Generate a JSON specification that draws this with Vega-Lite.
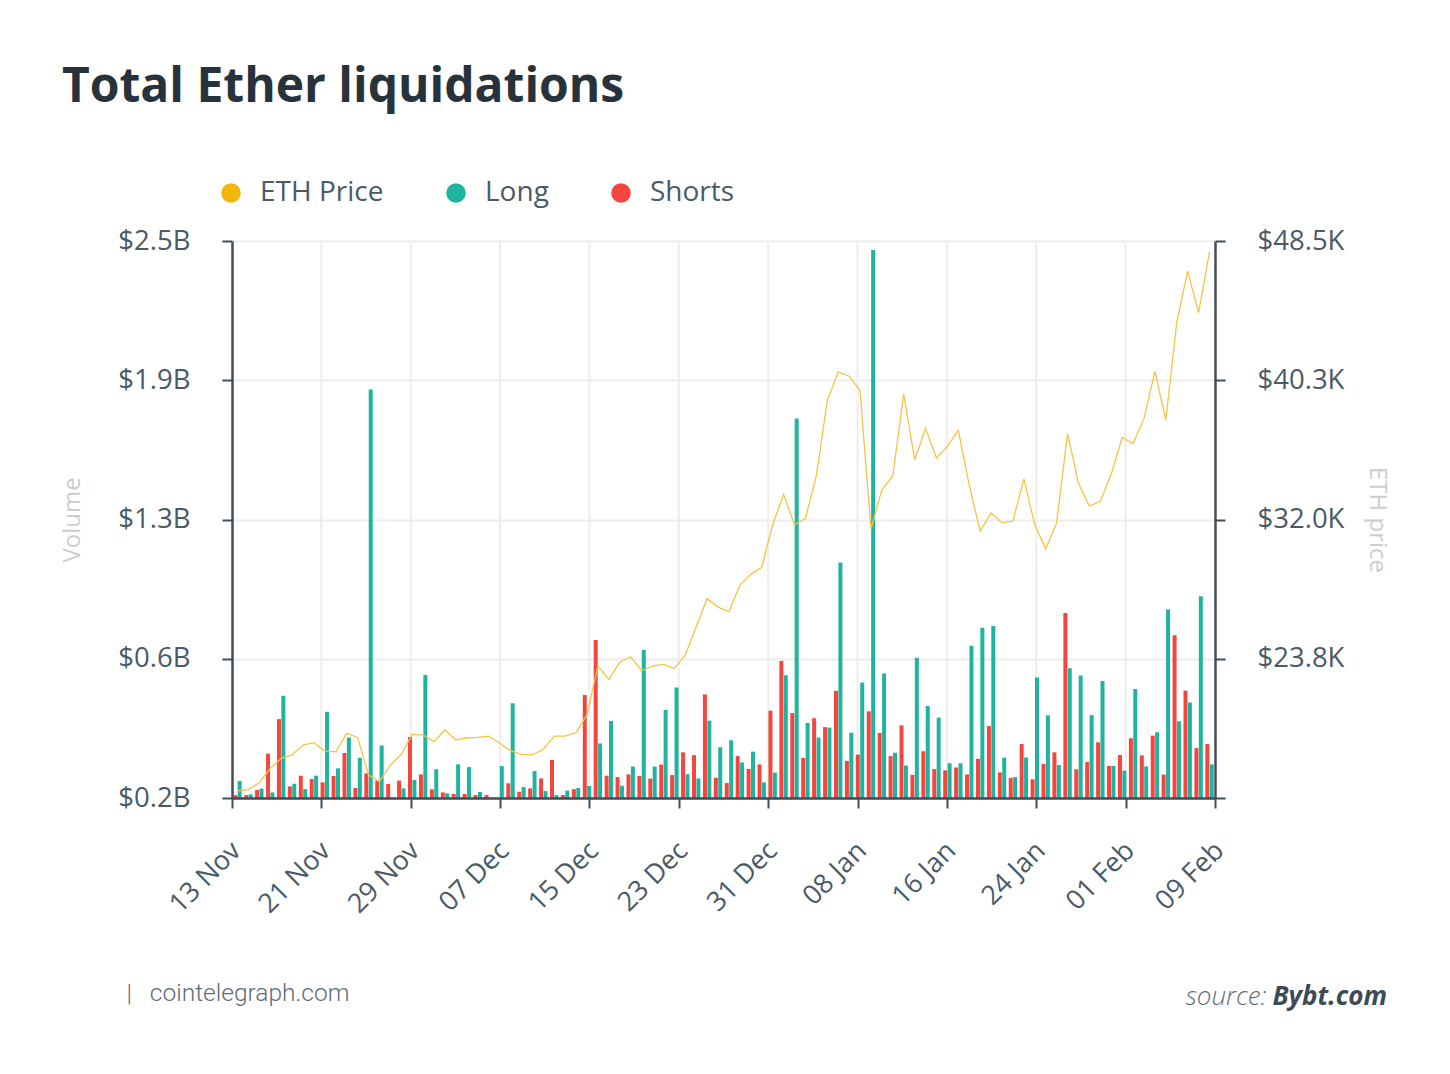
{
  "$schema": "https://vega.github.io/schema/vega-lite/v6.json",
  "width": 983,
  "height": 557,
  "autosize": {"type": "none"},
  "padding": {"left": 232, "top": 241, "right": 235, "bottom": 276},
  "background": "white",
  "config": {
    "font": "Open Sans",
    "view": {"stroke": null},
    "axis": {"labelFont": "Open Sans", "titleFont": "Open Sans"}
  },
  "title": {
    "text": "Total Ether liquidations",
    "anchor": "start",
    "frame": "group",
    "font": "Open Sans",
    "fontSize": 48,
    "fontWeight": "bold",
    "color": "#27323b",
    "baseline": "alphabetic",
    "dx": -170,
    "offset": 29
  },
  "datasets": {
    "ticks": [
      {"d": "2020/11/21"}, {"d": "2020/11/29"}, {"d": "2020/12/07"},
      {"d": "2020/12/15"}, {"d": "2020/12/23"}, {"d": "2020/12/31"}, {"d": "2021/01/08"},
      {"d": "2021/01/16"}, {"d": "2021/01/24"}, {"d": "2021/02/01"}
    ],
    "liq": [
      {"date": "2020/11/13", "short": 0.013, "long": 0.076, "price": 15.93},
      {"date": "2020/11/14", "short": 0.013, "long": 0.016, "price": 16.0},
      {"date": "2020/11/15", "short": 0.036, "long": 0.042, "price": 16.4},
      {"date": "2020/11/16", "short": 0.199, "long": 0.025, "price": 17.26},
      {"date": "2020/11/17", "short": 0.354, "long": 0.459, "price": 17.85},
      {"date": "2020/11/18", "short": 0.052, "long": 0.064, "price": 18.05},
      {"date": "2020/11/19", "short": 0.1, "long": 0.04, "price": 18.64},
      {"date": "2020/11/20", "short": 0.085, "long": 0.1, "price": 18.78},
      {"date": "2020/11/21", "short": 0.07, "long": 0.387, "price": 18.28},
      {"date": "2020/11/22", "short": 0.099, "long": 0.133, "price": 18.24},
      {"date": "2020/11/23", "short": 0.202, "long": 0.271, "price": 19.33},
      {"date": "2020/11/24", "short": 0.045, "long": 0.181, "price": 19.09},
      {"date": "2020/11/25", "short": 0.111, "long": 1.833, "price": 16.86},
      {"date": "2020/11/26", "short": 0.078, "long": 0.236, "price": 16.47},
      {"date": "2020/11/27", "short": 0.063, "long": 0, "price": 17.45},
      {"date": "2020/11/28", "short": 0.078, "long": 0.043, "price": 18.09},
      {"date": "2020/11/29", "short": 0.274, "long": 0.081, "price": 19.27},
      {"date": "2020/11/30", "short": 0.106, "long": 0.552, "price": 19.23},
      {"date": "2020/12/01", "short": 0.039, "long": 0.129, "price": 18.84},
      {"date": "2020/12/02", "short": 0.025, "long": 0.021, "price": 19.53},
      {"date": "2020/12/03", "short": 0.018, "long": 0.151, "price": 18.94},
      {"date": "2020/12/04", "short": 0.018, "long": 0.139, "price": 19.07},
      {"date": "2020/12/05", "short": 0.013, "long": 0.027, "price": 19.09},
      {"date": "2020/12/06", "short": 0.013, "long": 0, "price": 19.17},
      {"date": "2020/12/07", "short": 0, "long": 0.143, "price": 18.74},
      {"date": "2020/12/08", "short": 0.066, "long": 0.425, "price": 18.3},
      {"date": "2020/12/09", "short": 0.028, "long": 0.049, "price": 18.09},
      {"date": "2020/12/10", "short": 0.043, "long": 0.121, "price": 18.05},
      {"date": "2020/12/11", "short": 0.088, "long": 0.031, "price": 18.38},
      {"date": "2020/12/12", "short": 0.171, "long": 0.013, "price": 19.17},
      {"date": "2020/12/13", "short": 0.013, "long": 0.033, "price": 19.17},
      {"date": "2020/12/14", "short": 0.04, "long": 0.045, "price": 19.37},
      {"date": "2020/12/15", "short": 0.462, "long": 0.054, "price": 20.42},
      {"date": "2020/12/16", "short": 0.709, "long": 0.245, "price": 23.32},
      {"date": "2020/12/17", "short": 0.1, "long": 0.346, "price": 22.53},
      {"date": "2020/12/18", "short": 0.094, "long": 0.055, "price": 23.54},
      {"date": "2020/12/19", "short": 0.106, "long": 0.141, "price": 23.87},
      {"date": "2020/12/20", "short": 0.099, "long": 0.664, "price": 23.04},
      {"date": "2020/12/21", "short": 0.087, "long": 0.141, "price": 23.32},
      {"date": "2020/12/22", "short": 0.15, "long": 0.395, "price": 23.42},
      {"date": "2020/12/23", "short": 0.103, "long": 0.496, "price": 23.18},
      {"date": "2020/12/24", "short": 0.205, "long": 0.107, "price": 23.97},
      {"date": "2020/12/25", "short": 0.192, "long": 0.088, "price": 25.65},
      {"date": "2020/12/26", "short": 0.465, "long": 0.347, "price": 27.31},
      {"date": "2020/12/27", "short": 0.091, "long": 0.228, "price": 26.81},
      {"date": "2020/12/28", "short": 0.067, "long": 0.259, "price": 26.53},
      {"date": "2020/12/29", "short": 0.188, "long": 0.159, "price": 28.11},
      {"date": "2020/12/30", "short": 0.13, "long": 0.208, "price": 28.75},
      {"date": "2020/12/31", "short": 0.151, "long": 0.07, "price": 29.17},
      {"date": "2021/01/01", "short": 0.392, "long": 0.114, "price": 31.69},
      {"date": "2021/01/02", "short": 0.615, "long": 0.551, "price": 33.49},
      {"date": "2021/01/03", "short": 0.381, "long": 1.703, "price": 31.69},
      {"date": "2021/01/04", "short": 0.18, "long": 0.337, "price": 32.06},
      {"date": "2021/01/05", "short": 0.358, "long": 0.271, "price": 34.58},
      {"date": "2021/01/06", "short": 0.318, "long": 0.316, "price": 39.02},
      {"date": "2021/01/07", "short": 0.481, "long": 1.057, "price": 40.75},
      {"date": "2021/01/08", "short": 0.166, "long": 0.293, "price": 40.49},
      {"date": "2021/01/09", "short": 0.195, "long": 0.518, "price": 39.64},
      {"date": "2021/01/10", "short": 0.389, "long": 2.46, "price": 31.44},
      {"date": "2021/01/11", "short": 0.292, "long": 0.559, "price": 33.76},
      {"date": "2021/01/12", "short": 0.188, "long": 0.203, "price": 34.58},
      {"date": "2021/01/13", "short": 0.326, "long": 0.146, "price": 39.44},
      {"date": "2021/01/14", "short": 0.104, "long": 0.63, "price": 35.54},
      {"date": "2021/01/15", "short": 0.21, "long": 0.413, "price": 37.39},
      {"date": "2021/01/16", "short": 0.13, "long": 0.361, "price": 35.64},
      {"date": "2021/01/17", "short": 0.124, "long": 0.156, "price": 36.33},
      {"date": "2021/01/18", "short": 0.137, "long": 0.156, "price": 37.29},
      {"date": "2021/01/19", "short": 0.106, "long": 0.683, "price": 34.04},
      {"date": "2021/01/20", "short": 0.176, "long": 0.764, "price": 31.31},
      {"date": "2021/01/21", "short": 0.323, "long": 0.772, "price": 32.38},
      {"date": "2021/01/22", "short": 0.115, "long": 0.181, "price": 31.8},
      {"date": "2021/01/23", "short": 0.09, "long": 0.094, "price": 31.91},
      {"date": "2021/01/24", "short": 0.242, "long": 0.182, "price": 34.41},
      {"date": "2021/01/25", "short": 0.084, "long": 0.541, "price": 31.69},
      {"date": "2021/01/26", "short": 0.153, "long": 0.371, "price": 30.26},
      {"date": "2021/01/27", "short": 0.205, "long": 0.148, "price": 31.8},
      {"date": "2021/01/28", "short": 0.83, "long": 0.582, "price": 37.09},
      {"date": "2021/01/29", "short": 0.129, "long": 0.55, "price": 34.15},
      {"date": "2021/01/30", "short": 0.162, "long": 0.372, "price": 32.8},
      {"date": "2021/01/31", "short": 0.25, "long": 0.525, "price": 33.08},
      {"date": "2021/02/01", "short": 0.144, "long": 0.144, "price": 34.68},
      {"date": "2021/02/02", "short": 0.193, "long": 0.123, "price": 36.86},
      {"date": "2021/02/03", "short": 0.268, "long": 0.489, "price": 36.5},
      {"date": "2021/02/04", "short": 0.191, "long": 0.142, "price": 37.99},
      {"date": "2021/02/05", "short": 0.28, "long": 0.295, "price": 40.77},
      {"date": "2021/02/06", "short": 0.105, "long": 0.846, "price": 37.88},
      {"date": "2021/02/07", "short": 0.73, "long": 0.344, "price": 43.69},
      {"date": "2021/02/08", "short": 0.482, "long": 0.429, "price": 46.72},
      {"date": "2021/02/09", "short": 0.224, "long": 0.906, "price": 44.25},
      {"date": "2021/02/10", "short": 0.242, "long": 0.151, "price": 47.86}
    ]
  },
  "layer": [
    {
      "data": {"name": "ticks"},
      "mark": {"type": "rule", "color": "#ededed", "strokeWidth": 2},
      "encoding": {
        "x": {
          "field": "d",
          "type": "temporal",
          "scale": {
            "domain": [{"year": 2020, "month": 11, "date": 13}, {"year": 2021, "month": 2, "date": 9}],
            "nice": false
          },
          "axis": {
            "orient": "bottom",
            "zindex": 1,
            "values": [
              {"year": 2020, "month": 11, "date": 13}, {"year": 2020, "month": 11, "date": 21},
              {"year": 2020, "month": 11, "date": 29}, {"year": 2020, "month": 12, "date": 7},
              {"year": 2020, "month": 12, "date": 15}, {"year": 2020, "month": 12, "date": 23},
              {"year": 2020, "month": 12, "date": 31}, {"year": 2021, "month": 1, "date": 8},
              {"year": 2021, "month": 1, "date": 16}, {"year": 2021, "month": 1, "date": 24},
              {"year": 2021, "month": 2, "date": 1}, {"year": 2021, "month": 2, "date": 9}
            ],
            "format": "%d %b",
            "grid": false,
            "domainColor": "#3f4e59",
            "domainWidth": 2.5,
            "tickColor": "#3f4e59",
            "tickSize": 10,
            "tickWidth": 2,
            "labelAngle": -45,
            "labelAlign": "right",
            "labelBaseline": "top",
            "labelFontSize": 27,
            "labelColor": "#4a5a66",
            "labelPadding": 29,
            "labelOffset": -5,
            "labelFlush": false,
            "labelOverlap": false,
            "title": "|\u00a0\u00a0\u00a0cointelegraph.com",
            "titleFont": "Roboto",
            "titleFontWeight": 300,
            "titleFontSize": 24.5,
            "titleColor": "#5f6b74",
            "titleAlign": "left",
            "titleBaseline": "alphabetic",
            "titleX": -106,
            "titleY": 202
          }
        }
      }
    },
    {
      "data": {"name": "liq"},
      "layer": [
        {
          "mark": {"type": "bar", "width": 4, "xOffset": -2.2},
          "encoding": {
            "x": {
              "field": "date",
              "type": "ordinal",
              "scale": {"type": "band", "paddingInner": 0, "paddingOuter": 0},
              "axis": {
                "orient": "top", "domain": false, "ticks": false, "labels": false, "grid": false,
                "title": "source:", "titleFont": "Open Sans", "titleFontStyle": "italic", "titleFontWeight": 300,
                "titleFontSize": 26, "titleColor": "#5f6b74", "titleAlign": "right", "titleBaseline": "alphabetic",
                "titleX": 1034, "titleY": 763
              }
            },
            "y": {
              "field": "short",
              "type": "quantitative",
              "scale": {"domain": [0, 2.5], "nice": false, "zero": true},
              "axis": {
                "orient": "left",
                "values": [0, 0.625, 1.25, 1.875, 2.5],
                "labelExpr": "datum.value == 0 ? '$0.2B' : '$' + format(datum.value, '.1f') + 'B'",
                "grid": true, "gridColor": "#ededed", "gridWidth": 2,
                "domainColor": "#3f4e59", "domainWidth": 2.5,
                "tickColor": "#3f4e59", "tickSize": 10, "tickWidth": 2,
                "labelFontSize": 27.5, "labelColor": "#4a5a66", "labelPadding": 32,
                "title": "Volume", "titleFontSize": 24, "titleFontWeight": "normal", "titleColor": "#c9ced2",
                "titlePadding": 33
              }
            },
            "color": {
              "datum": "Shorts",
              "type": "nominal",
              "scale": {"domain": ["ETH Price", "Long", "Shorts"], "range": ["#f5b60c", "#1fb4a0", "#f4463f"]},
              "legend": {
                "orient": "none", "legendX": -15, "legendY": -62, "direction": "horizontal", "title": null,
                "symbolType": "circle", "symbolSize": 380, "symbolStrokeWidth": 0,
                "labelFontSize": 28, "labelColor": "#4a5a66", "labelFont": "Open Sans",
                "labelOffset": 15, "columnPadding": 58
              }
            }
          }
        },
        {
          "mark": {"type": "bar", "width": 4, "xOffset": 2.2},
          "encoding": {
            "x": {
              "field": "date",
              "type": "ordinal",
              "scale": {"type": "band", "paddingInner": 0, "paddingOuter": 0},
              "axis": {
                "orient": "top", "domain": false, "ticks": false, "labels": false, "grid": false,
                "title": "source:", "titleFont": "Open Sans", "titleFontStyle": "italic", "titleFontWeight": 300,
                "titleFontSize": 26, "titleColor": "#5f6b74", "titleAlign": "right", "titleBaseline": "alphabetic",
                "titleX": 1034, "titleY": 763
              }
            },
            "y": {
              "field": "long",
              "type": "quantitative",
              "scale": {"domain": [0, 2.5], "nice": false, "zero": true},
              "axis": {
                "orient": "left",
                "values": [0, 0.625, 1.25, 1.875, 2.5],
                "labelExpr": "datum.value == 0 ? '$0.2B' : '$' + format(datum.value, '.1f') + 'B'",
                "grid": true, "gridColor": "#ededed", "gridWidth": 2,
                "domainColor": "#3f4e59", "domainWidth": 2.5,
                "tickColor": "#3f4e59", "tickSize": 10, "tickWidth": 2,
                "labelFontSize": 27.5, "labelColor": "#4a5a66", "labelPadding": 32,
                "title": "Volume", "titleFontSize": 24, "titleFontWeight": "normal", "titleColor": "#c9ced2",
                "titlePadding": 33
              }
            },
            "color": {"datum": "Long", "type": "nominal"}
          }
        }
      ]
    },
    {
      "data": {"name": "liq"},
      "mark": {"type": "line", "color": "#f6c445", "strokeWidth": 1.3},
      "encoding": {
        "x": {
          "field": "date",
          "type": "ordinal",
          "bandPosition": 0.5,
          "scale": {"type": "band", "paddingInner": 0, "paddingOuter": 0},
          "axis": {
            "orient": "top", "domain": false, "ticks": false, "labels": false, "grid": false,
            "title": "Bybt.com", "titleFont": "Open Sans", "titleFontStyle": "italic", "titleFontWeight": "bold",
            "titleFontSize": 26, "titleColor": "#3d4a55", "titleAlign": "left", "titleBaseline": "alphabetic",
            "titleX": 1040, "titleY": 763
          }
        },
        "y": {
          "field": "price",
          "type": "quantitative",
          "scale": {"domain": [15.5, 48.5], "nice": false, "zero": false},
          "axis": {
            "orient": "right",
            "zindex": 1,
            "values": [15.5, 23.75, 32, 40.25, 48.5],
            "labelExpr": "datum.value == 15.5 ? '' : '$' + format(datum.value, '.1f') + 'K'",
            "grid": false,
            "domainColor": "#3f4e59", "domainWidth": 2.5,
            "tickColor": "#3f4e59", "tickSize": 10, "tickWidth": 2,
            "labelFontSize": 27.5, "labelColor": "#4a5a66", "labelPadding": 32,
            "title": "ETH price", "titleFontSize": 24, "titleFontWeight": "normal", "titleColor": "#c9ced2",
            "titlePadding": 21
          }
        }
      }
    }
  ],
  "resolve": {"scale": {"x": "independent", "y": "independent"}}
}
